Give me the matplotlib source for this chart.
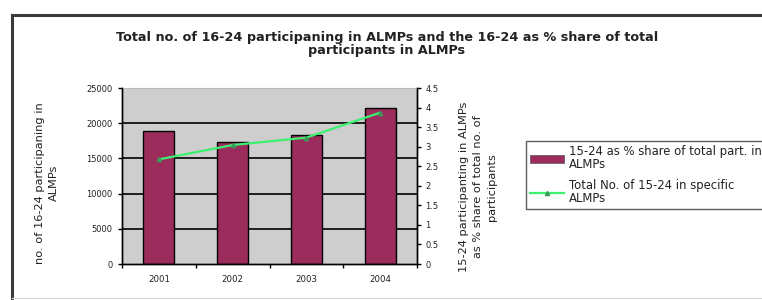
import matplotlib
matplotlib.use("Agg")
import matplotlib.pyplot as plt
from matplotlib.patches import Rectangle
from matplotlib.lines import Line2D
import numpy as np

plt.rcParams["font.family"] = ["DejaVu Sans"]

# ---------------------------------------------------------------------------
# Data
# ---------------------------------------------------------------------------
years = ["2001", "2002", "2003", "2004"]
share_pct = [3.39, 3.12, 3.29, 3.99]               # bars, right axis
total_participants = [14860, 16900, 17950, 21500]  # line, left axis

left_ticks = [0, 5000, 10000, 15000, 20000, 25000]
right_ticks = [0, 0.5, 1, 1.5, 2, 2.5, 3, 3.5, 4, 4.5]

TITLE = ("Total no. of 16-24 participaning in ALMPs and the 16-24 as % share of total\n"
         "participants in ALMPs")
LEFT_LABEL = "no. of 16-24 participaning in\nALMPs"
RIGHT_LABEL = "15-24 participanting in ALMPs\nas % share of total no. of\nparticipants"
BAR_LABEL = "15-24 as % share of total part. in\nALMPs"
LINE_LABEL = "Total No. of 15-24 in specific\nALMPs"

BAR_COLOR = "#9c2c5c"
LINE_COLOR = "#3cf070"
TEXT_COLOR = "#222222"

W, H = 762, 300

# ---------------------------------------------------------------------------
# Figure
# ---------------------------------------------------------------------------
fig = plt.figure(figsize=(W / 100, H / 100), dpi=100)

# outer chart frame: dark top/left edges, faint bottom, runs off the right
fx, ftop, fbot = 12 / W, 1 - 15 / H, 1 - 298 / H
fig.add_artist(Line2D([fx, 1.0], [ftop, ftop], transform=fig.transFigure,
                      color="#3a3a3a", lw=2.2))
fig.add_artist(Line2D([fx, fx], [fbot, ftop], transform=fig.transFigure,
                      color="#3a3a3a", lw=2.2))
fig.add_artist(Line2D([fx, 1.0], [fbot, fbot], transform=fig.transFigure,
                      color="#d8d8d8", lw=1.0))

rect = [122 / W, 1 - 264 / H, (417 - 122) / W, (264 - 88) / H]
ax_r = fig.add_axes(rect)                 # bars + background, right scale
ax_l = fig.add_axes(rect, sharex=ax_r)    # line on top, left scale
ax_l.patch.set_visible(False)

x = np.arange(len(years))

# right axis: bars
ax_r.set_facecolor("#cecece")
ax_r.set_ylim(0, 4.5)
ax_r.set_xlim(-0.5, len(years) - 0.5)
ax_r.yaxis.tick_right()
ax_r.set_yticks(right_ticks)
ax_r.set_yticklabels([f"{t:g}" for t in right_ticks])

# gridlines follow the left axis ticks, drawn behind the bars
for t in left_ticks[1:-1]:
    ax_r.axhline(t * 4.5 / left_ticks[-1], color="black", lw=1.2, zorder=1)

ax_r.bar(x, share_pct, width=0.42, color=BAR_COLOR, edgecolor="black",
         lw=1.0, zorder=2)

# left axis: line
ax_l.set_ylim(0, 25000)
ax_l.set_yticks(left_ticks)
ax_l.set_yticklabels([str(t) for t in left_ticks])
ax_l.plot(x, total_participants, color=LINE_COLOR, lw=1.6, marker="^",
          markersize=3, markerfacecolor="#3a9a5a", markeredgecolor="#3a9a5a")

# x ticks: labels at centres, tick marks at category boundaries
ax_r.set_xticks(x)
ax_r.set_xticklabels(years)
ax_r.set_xticks(np.arange(-0.5, len(years)), minor=True)
ax_r.tick_params(axis="x", which="major", length=0, pad=8,
                 labelsize=6.2, colors=TEXT_COLOR)
ax_r.tick_params(axis="x", which="minor", length=3, width=1, color="black")
ax_l.tick_params(axis="x", which="both", bottom=False, labelbottom=False)

ax_r.tick_params(axis="y", length=3, width=1, labelsize=6.0,
                 colors=TEXT_COLOR, color="black", pad=3)
ax_l.tick_params(axis="y", length=3, width=1, labelsize=6.0,
                 colors=TEXT_COLOR, color="black", pad=4)

for a in (ax_r, ax_l):
    a.spines["top"].set_visible(False)
    for s in ("left", "right", "bottom"):
        a.spines[s].set_color("black")
        a.spines[s].set_linewidth(1.0)
ax_r.spines["top"].set_visible(True)
ax_r.spines["top"].set_color("#bbbbbb")

# axis titles placed where the scan has them
fig.text(47 / W, 1 - 183 / H, LEFT_LABEL, rotation=90, ha="center",
         va="center", fontsize=8.2, color=TEXT_COLOR, linespacing=1.5)
fig.text(478 / W, 1 - 187 / H, RIGHT_LABEL, rotation=90, ha="center",
         va="center", fontsize=8.2, color=TEXT_COLOR, linespacing=1.45)

fig.text(387 / W, 1 - 44 / H, TITLE, ha="center", va="center",
         fontsize=9.2, fontweight="bold", color=TEXT_COLOR, linespacing=1.05)

handles = [
    Rectangle((0, 0), 1, 1, facecolor=BAR_COLOR, edgecolor="#555555", lw=0.5),
    Line2D([], [], color=LINE_COLOR, lw=1.6, marker="^", markersize=3,
           markerfacecolor="#3a9a5a", markeredgecolor="#3a9a5a"),
]
leg = fig.legend(handles, [BAR_LABEL, LINE_LABEL],
                 loc="upper left", bbox_to_anchor=(526 / W, 1 - 141 / H),
                 fontsize=8.4, frameon=True, fancybox=False, borderpad=0.35,
                 handlelength=2.9, handletextpad=0.4, labelspacing=0.75,
                 borderaxespad=0)
leg.get_frame().set_edgecolor("#333333")
leg.get_frame().set_linewidth(1.0)
for t in leg.get_texts():
    t.set_color(TEXT_COLOR)
    t.set_linespacing(0.95)

fig.savefig("out.png", dpi=100)
